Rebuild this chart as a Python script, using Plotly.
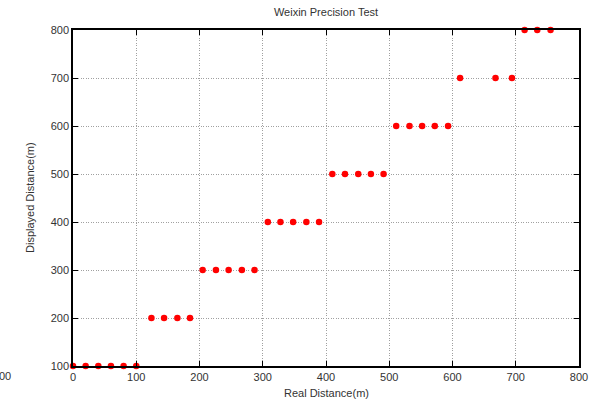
import plotly.graph_objects as go

real_distance = [0, 20, 40, 60, 80, 100,
                 124, 144, 165, 185,
                 205, 226, 246, 267, 287,
                 308, 328, 348, 369, 389,
                 410, 430, 451, 471, 491,
                 511, 532, 552, 572, 593,
                 612, 668, 694,
                 714, 734, 755]
displayed_distance = [100] * 6 + [200] * 4 + [300] * 5 + [400] * 5 + [500] * 5 + [600] * 5 + [700] * 3 + [800] * 3

x_ticks = [0, 100, 200, 300, 400, 500, 600, 700, 800]
y_ticks = [100, 200, 300, 400, 500, 600, 700, 800]

FONT = "Liberation Sans, Arial"

fig = go.Figure()
fig.add_trace(go.Scatter(
    x=real_distance, y=displayed_distance, mode="markers",
    marker=dict(color="#ff0000", size=6.5, line=dict(width=0)),
    cliponaxis=False, showlegend=False))

axis_common = dict(
    showline=True, linecolor="#000000", linewidth=1.5, mirror="allticks",
    ticks="inside", ticklen=5, tickwidth=1, tickcolor="#000000",
    showgrid=True, gridcolor="#a0a0a0", gridwidth=1, griddash="1px,1.5px",
    zeroline=False, automargin=False,
    tickfont=dict(family=FONT, size=11, color="#333333"),
)

fig.update_xaxes(range=[0, 800], tickvals=x_ticks, **axis_common)
fig.update_yaxes(range=[100, 800], tickvals=y_ticks, **axis_common)

W, L, R = 602, 73, 23
H, T, B = 400, 30, 34
pw = W - L - R
ph = H - T - B

def px_x(p):
    return (p - L) / pw

def px_y(p):
    return (H - B - p) / ph

fig.add_annotation(text="Real Distance(m)", xref="paper", yref="paper", x=px_x(326), y=px_y(393),
                   xanchor="center", yanchor="middle", showarrow=False,
                   font=dict(family=FONT, size=11, color="#333333"))
fig.add_annotation(text="Displayed Distance(m)", xref="paper", yref="paper", x=px_x(30), y=px_y(198),
                   xanchor="center", yanchor="middle", textangle=-90, showarrow=False,
                   font=dict(family=FONT, size=11, color="#333333"))
fig.add_annotation(text="00", xref="paper", yref="paper", x=px_x(-3), y=px_y(376),
                   xanchor="left", yanchor="middle", showarrow=False,
                   font=dict(family=FONT, size=11, color="#333333"))

fig.update_layout(
    width=W, height=H,
    margin=dict(l=L, r=R, t=T, b=B),
    paper_bgcolor="white", plot_bgcolor="white",
    title=dict(text="Weixin Precision Test", x=px_x(326), xref="paper", xanchor="center",
               y=1 - 12 / H, yanchor="middle",
               font=dict(family=FONT, size=11, color="#333333")),
)

fig.write_html("out.html")
